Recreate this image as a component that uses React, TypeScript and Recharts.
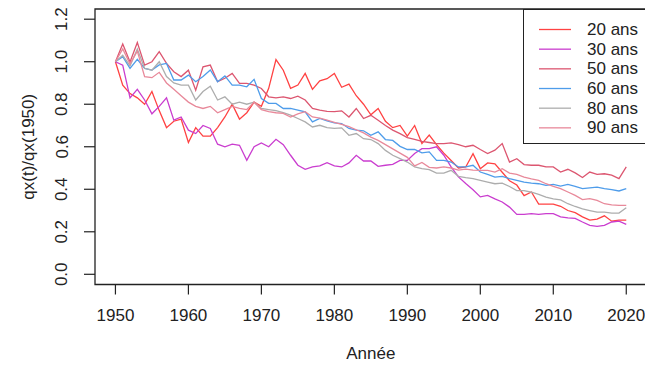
import React from 'react'
import { LineChart, Line, XAxis, YAxis, ReferenceArea } from 'recharts'

// Years covered by the series (one point per year)
const YEARS = [
  1950, 1951, 1952, 1953, 1954, 1955, 1956, 1957, 1958, 1959,
  1960, 1961, 1962, 1963, 1964, 1965, 1966, 1967, 1968, 1969,
  1970, 1971, 1972, 1973, 1974, 1975, 1976, 1977, 1978, 1979,
  1980, 1981, 1982, 1983, 1984, 1985, 1986, 1987, 1988, 1989,
  1990, 1991, 1992, 1993, 1994, 1995, 1996, 1997, 1998, 1999,
  2000, 2001, 2002, 2003, 2004, 2005, 2006, 2007, 2008, 2009,
  2010, 2011, 2012, 2013, 2014, 2015, 2016, 2017, 2018, 2019,
  2020,
]

// qx(t)/qx(1950) by age
const AGE_20 = [
  1.0, 0.89, 0.85, 0.83, 0.8, 0.86, 0.77, 0.69, 0.72, 0.73,
  0.62, 0.69, 0.65, 0.65, 0.69, 0.74, 0.8, 0.73, 0.76, 0.81,
  0.79, 0.875, 1.01, 0.96, 0.875, 0.89, 0.945, 0.87, 0.91, 0.92,
  0.945, 0.88, 0.895, 0.84, 0.8, 0.75, 0.78, 0.72, 0.69, 0.7,
  0.65, 0.7, 0.615, 0.655, 0.61, 0.57, 0.535, 0.5, 0.505, 0.567,
  0.497, 0.524, 0.52, 0.48, 0.44, 0.42, 0.37, 0.387, 0.33, 0.33,
  0.33, 0.32, 0.3, 0.29, 0.27, 0.255, 0.26, 0.275, 0.25, 0.255,
  0.255,
]
const AGE_30 = [
  1.0, 0.984, 0.83, 0.87, 0.82, 0.755, 0.79, 0.83, 0.725, 0.74,
  0.678, 0.662, 0.7, 0.686, 0.612, 0.6, 0.612, 0.607, 0.536, 0.6,
  0.618, 0.6, 0.635, 0.61, 0.56, 0.513, 0.494, 0.505, 0.51, 0.525,
  0.51, 0.505, 0.524, 0.56, 0.533, 0.533, 0.508, 0.513, 0.517, 0.536,
  0.536, 0.568, 0.591, 0.591, 0.6, 0.56, 0.505, 0.458, 0.427, 0.398,
  0.364, 0.371, 0.355, 0.34, 0.316, 0.282, 0.282, 0.285, 0.282, 0.285,
  0.285, 0.27, 0.265, 0.263, 0.246, 0.23, 0.225, 0.23, 0.246, 0.25,
  0.235,
]
const AGE_50 = [
  1.0, 1.083, 0.999, 1.09, 0.984, 1.0, 1.047, 0.992, 0.953, 0.93,
  0.96, 0.866, 0.976, 0.984, 0.906, 0.922, 0.945, 0.898, 0.898, 0.89,
  0.874, 0.835, 0.83, 0.835, 0.827, 0.838, 0.82, 0.78, 0.772, 0.766,
  0.765, 0.769, 0.74, 0.78, 0.733, 0.748, 0.725, 0.7, 0.678, 0.662,
  0.643, 0.635, 0.625, 0.62, 0.615, 0.615, 0.618, 0.61, 0.6, 0.607,
  0.587, 0.568, 0.584, 0.615, 0.528, 0.544, 0.516, 0.513, 0.513, 0.505,
  0.505, 0.481, 0.494, 0.477, 0.455, 0.481, 0.47, 0.473, 0.466, 0.45,
  0.505,
]
const AGE_60 = [
  1.0, 1.024, 0.969, 1.011, 0.969, 0.961, 0.985, 0.992, 0.914, 0.914,
  0.937, 0.906, 0.93, 0.961, 0.906, 0.933, 0.89, 0.89, 0.882, 0.917,
  0.827, 0.804, 0.804, 0.78, 0.78, 0.772, 0.764, 0.717, 0.733, 0.722,
  0.712, 0.709, 0.686, 0.678, 0.675, 0.654, 0.67, 0.634, 0.63, 0.602,
  0.587, 0.587, 0.571, 0.576, 0.536, 0.536, 0.528, 0.505, 0.505, 0.513,
  0.481, 0.47, 0.457, 0.461, 0.45, 0.442, 0.434, 0.429, 0.426, 0.418,
  0.423, 0.415, 0.423, 0.414, 0.403, 0.407, 0.41, 0.403, 0.398, 0.392,
  0.403,
]
const AGE_80 = [
  1.0, 1.03, 0.98, 1.06, 0.969, 0.96, 1.0, 0.93, 0.9, 0.89,
  0.89, 0.82, 0.86, 0.885, 0.82, 0.835, 0.8, 0.81, 0.8, 0.81,
  0.78, 0.775, 0.77, 0.76, 0.749, 0.733, 0.717, 0.693, 0.701, 0.69,
  0.686, 0.689, 0.654, 0.662, 0.638, 0.634, 0.615, 0.583, 0.56, 0.544,
  0.528, 0.505, 0.497, 0.492, 0.476, 0.476, 0.489, 0.461, 0.455, 0.45,
  0.442, 0.434, 0.426, 0.429, 0.413, 0.394, 0.394, 0.386, 0.376, 0.363,
  0.355, 0.35, 0.332, 0.319, 0.308, 0.3, 0.292, 0.292, 0.288, 0.288,
  0.313,
]
const AGE_90 = [
  1.0, 1.06, 0.99, 1.05, 0.93, 0.925, 0.95, 0.9, 0.87, 0.84,
  0.81, 0.79, 0.78, 0.79, 0.76, 0.775, 0.79, 0.78, 0.775, 0.81,
  0.775, 0.765, 0.76, 0.757, 0.74, 0.755, 0.765, 0.74, 0.735, 0.725,
  0.715, 0.705, 0.695, 0.68, 0.665, 0.645, 0.63, 0.61, 0.59, 0.57,
  0.55, 0.51, 0.526, 0.503, 0.5, 0.505, 0.5, 0.49, 0.495, 0.49,
  0.489, 0.489, 0.481, 0.497, 0.476, 0.47, 0.457, 0.449, 0.442, 0.426,
  0.414, 0.403, 0.387, 0.371, 0.351, 0.356, 0.348, 0.332, 0.327, 0.324,
  0.324,
]

const SERIES = [
  { key: 'a20', name: '20 ans', values: AGE_20, color: '#FF4242' },
  { key: 'a30', name: '30 ans', values: AGE_30, color: '#CA3DCF' },
  { key: 'a50', name: '50 ans', values: AGE_50, color: '#DC5670' },
  { key: 'a60', name: '60 ans', values: AGE_60, color: '#4E9CEA' },
  { key: 'a80', name: '80 ans', values: AGE_80, color: '#ADADAD' },
  { key: 'a90', name: '90 ans', values: AGE_90, color: '#E8899A' },
]

const X_TICKS = [1950, 1960, 1970, 1980, 1990, 2000, 2010, 2020]
const Y_TICKS = [0, 0.2, 0.4, 0.6, 0.8, 1.0, 1.2]

// R-style 4% padding around the data range
const X_DOMAIN: [number, number] = [1947.2, 2022.8]
const Y_DOMAIN: [number, number] = [-0.048, 1.248]

const FONT = '"Liberation Sans", Arial, Helvetica, sans-serif'
const INK = '#222'

const data = YEARS.map((year, i) => {
  const row: Record<string, number> = { year }
  SERIES.forEach((s) => {
    row[s.key] = s.values[i]
  })
  return row
})

interface TickProps {
  x?: number
  y?: number
  payload?: { value: number }
}

const XTick = ({ x = 0, y = 0, payload }: TickProps) => (
  <text
    x={x}
    y={y + 21}
    textAnchor="middle"
    dominantBaseline="central"
    fontSize={17}
    fontFamily={FONT}
    fill={INK}
  >
    {payload?.value}
  </text>
)

const YTick = ({ x = 0, y = 0, payload }: TickProps) => {
  const tx = x - 22
  return (
    <text
      x={tx}
      y={y}
      transform={`rotate(-90, ${tx}, ${y})`}
      textAnchor="middle"
      dominantBaseline="central"
      fontSize={17}
      fontFamily={FONT}
      fill={INK}
    >
      {(payload?.value ?? 0).toFixed(1)}
    </text>
  )
}

const Legend = () => (
  <div
    style={{
      position: 'absolute',
      left: 523,
      top: 9,
      width: 140,
      height: 135,
      border: `1.3px solid ${INK}`,
      boxSizing: 'border-box',
      background: '#fff',
    }}
  >
    <svg width={140} height={135}>
      {SERIES.map((s, i) => {
        const cy = 19.5 + i * 19.67
        return (
          <g key={s.key}>
            <line x1={15} x2={47} y1={cy} y2={cy} stroke={s.color} strokeWidth={1.3} />
            <text
              x={63}
              y={cy}
              dominantBaseline="central"
              fontSize={17}
              fontFamily={FONT}
              fill={INK}
            >
              {s.name}
            </text>
          </g>
        )
      })}
    </svg>
  </div>
)

export default function App() {
  return (
    <div
      style={{
        position: 'absolute',
        left: 0,
        top: 0,
        width: 645,
        height: 365,
        overflow: 'hidden',
        background: '#fff',
        fontFamily: FONT,
      }}
    >
      <LineChart
        width={650}
        height={365}
        data={data}
        margin={{ top: 9, right: 3.3, bottom: 0, left: 0 }}
      >
        <XAxis
          dataKey="year"
          type="number"
          domain={X_DOMAIN}
          ticks={X_TICKS}
          allowDataOverflow
          axisLine={false}
          tickLine={{ stroke: INK, strokeWidth: 1.2 }}
          tickSize={10}
          tickMargin={0}
          height={80.5}
          tick={<XTick />}
          label={() => (
            <text
              x={370.8}
              y={353}
              textAnchor="middle"
              dominantBaseline="central"
              fontSize={17}
              fontFamily={FONT}
              fill={INK}
            >
              Année
            </text>
          )}
        />
        <YAxis
          type="number"
          domain={Y_DOMAIN}
          ticks={Y_TICKS}
          allowDataOverflow
          axisLine={false}
          tickLine={{ stroke: INK, strokeWidth: 1.2 }}
          tickSize={11}
          tickMargin={0}
          width={95}
          tick={<YTick />}
          label={() => (
            <text
              x={28}
              y={146.75}
              transform="rotate(-90, 28, 146.75)"
              textAnchor="middle"
              dominantBaseline="central"
              fontSize={17}
              fontFamily={FONT}
              fill={INK}
            >
              qx(t)/qx(1950)
            </text>
          )}
        />
        <ReferenceArea
          x1={X_DOMAIN[0]}
          x2={X_DOMAIN[1]}
          y1={Y_DOMAIN[0]}
          y2={Y_DOMAIN[1]}
          fill="none"
          stroke={INK}
          strokeWidth={1.3}
          ifOverflow="visible"
        />
        {SERIES.map((s) => (
          <Line
            key={s.key}
            type="linear"
            dataKey={s.key}
            name={s.name}
            stroke={s.color}
            strokeWidth={1.3}
            dot={false}
            isAnimationActive={false}
          />
        ))}
      </LineChart>
      <Legend />
    </div>
  )
}
